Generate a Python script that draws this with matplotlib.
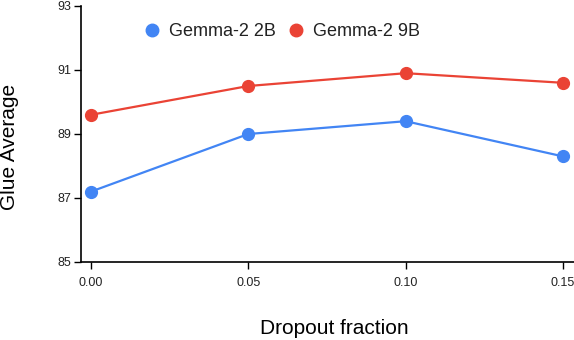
import matplotlib
from matplotlib import pyplot as plt
from matplotlib.lines import Line2D

matplotlib.use("agg")
plt.rcParams["font.family"] = ["Liberation Sans", "DejaVu Sans"]

dropout = [0.00, 0.05, 0.10, 0.15]
gemma_2b = [87.2, 89.0, 89.4, 88.3]
gemma_9b = [89.6, 90.5, 90.9, 90.6]
x_ticks = [0.00, 0.05, 0.10, 0.15]
y_ticks = [85, 87, 89, 91, 93]

blue = "#4285F4"
red = "#EA4335"

W, H = 574, 340
fig = plt.figure(figsize=(W / 100, H / 100), dpi=100)
ax = fig.add_axes([81 / W, 1 - 262 / H, 1 - 81 / W, 256 / H])

ax.plot(dropout, gemma_2b, color=blue, lw=1.6, marker="o", ms=8.5, label="Gemma-2 2B", clip_on=False)
ax.plot(dropout, gemma_9b, color=red, lw=1.6, marker="o", ms=8.5, label="Gemma-2 9B", clip_on=False)

ax.set_xlim(-0.00318, 0.1535)
ax.set_ylim(85, 93)
ax.set_xticks(x_ticks)
ax.set_xticklabels([f"{v:.2f}" for v in x_ticks])
ax.set_yticks(y_ticks)
ax.tick_params(labelsize=9, length=5, width=1, color="black", labelcolor="#222222")
ax.tick_params(axis="x", pad=6)
ax.tick_params(axis="y", pad=2)

for side in ["top", "right"]:
    ax.spines[side].set_visible(False)
for side in ["left", "bottom"]:
    ax.spines[side].set_linewidth(1.2)

# axis titles placed in figure pixels
fig.text(9.5 / W, 1 - 147 / H, "Glue Average", fontsize=15, rotation=90, ha="center", va="center")
fig.text(334 / W, 1 - 328 / H, "Dropout fraction", fontsize=15, ha="center", va="center")

handles = [
    Line2D([], [], color=blue, marker="o", ls="none", ms=9),
    Line2D([], [], color=red, marker="o", ls="none", ms=9),
]
ax.legend(handles, ["Gemma-2 2B", "Gemma-2 9B"], ncol=2, frameon=False, fontsize=13,
          loc="center left", bbox_to_anchor=(0.09, 0.90), handletextpad=0.3,
          columnspacing=0.55, handlelength=1.2, labelcolor="#222222")

plt.savefig("out.png", dpi=100)
